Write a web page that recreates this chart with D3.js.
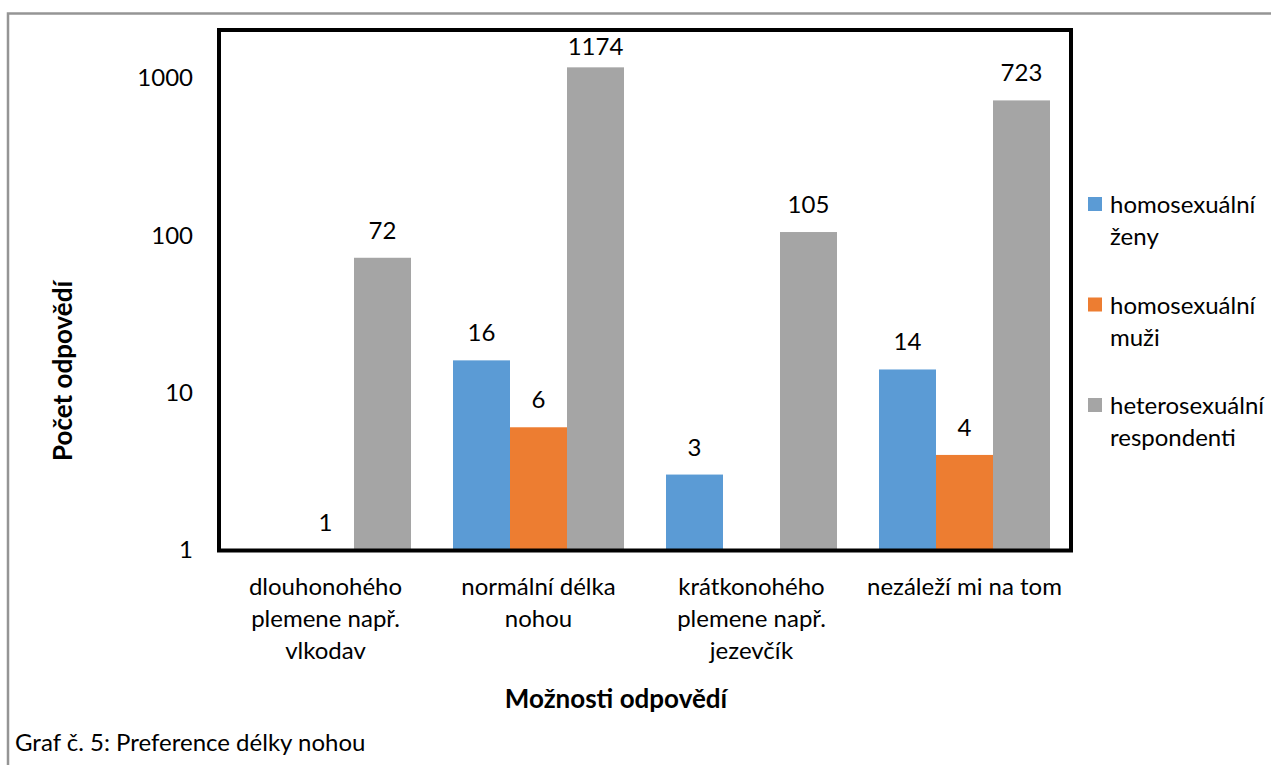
<!DOCTYPE html>
<meta charset="utf-8">
<script src="https://d3js.org/d3.v7.min.js"></script>

<style>
    body { margin: 0; background: #fff; }
    svg text { font-family: Lato, "Noto Sans", sans-serif; fill: #000; }
</style>

<div id="vis"></div>

<script>
    // data
    var categories = [
        ["dlouhonohého", "plemene např.", "vlkodav"],
        ["normální délka", "nohou"],
        ["krátkonohého", "plemene např.", "jezevčík"],
        ["nezáleží mi na tom"]
    ]
    var seriesNames = [
        ["homosexuální", "ženy"],
        ["homosexuální", "muži"],
        ["heterosexuální", "respondenti"]
    ]
    var lesbianValues = [null, 16, 3, 14]
    var gayValues = [1, 6, null, 4]
    var heteroValues = [72, 1174, 105, 723]
    var yTicks = [1, 10, 100, 1000]

    var colors = ["#5B9BD5", "#ED7D31", "#A5A5A5"]
    var fontSize = 24
    var titleSize = 26

    var W = 1271, H = 765
    var plot = {left: 219, right: 1071, top: 31, bottom: 549.5}

    var svg = d3.select("#vis").append("svg")
        .attr("width", W)
        .attr("height", H)

    // outer frame of the chart object
    svg.append("rect")
        .attr("x", 8).attr("y", 13.5)
        .attr("width", W + 20).attr("height", H + 20)
        .attr("fill", "none")
        .attr("stroke", "#959595")
        .attr("stroke-width", 2.5)

    var x0 = d3.scaleBand()
        .domain(d3.range(categories.length))
        .range([plot.left, plot.right])

    // Excel gap width ~75% => about 21px each side of a group
    var gap = x0.bandwidth() * 42 / 213 / 2
    var x1 = d3.scaleBand()
        .domain([0, 1, 2])
        .range([gap, x0.bandwidth() - gap])

    var y = d3.scaleLog().domain([1, 2000]).range([plot.bottom, plot.top])

    var series = [lesbianValues, gayValues, heteroValues]

    // bars
    series.forEach(function (vals, s) {
        var g = svg.append("g")
        var data = vals.map(function (v, i) { return {v: v, i: i} }).filter(function (d) { return d.v != null })

        g.selectAll("rect")
            .data(data)
            .enter()
            .append("rect")
            .attr("x", function (d) { return x0(d.i) + x1(s) })
            .attr("width", x1.bandwidth())
            .attr("y", function (d) { return y(d.v) })
            .attr("height", function (d) { return plot.bottom - y(d.v) })
            .attr("fill", colors[s])

        // value labels, kept inside the plot area
        g.selectAll("text")
            .data(data)
            .enter()
            .append("text")
            .attr("x", function (d) { return x0(d.i) + x1(s) + x1.bandwidth() / 2 })
            .attr("y", function (d) { return Math.max(y(d.v) - 19, plot.top + 24) })
            .attr("text-anchor", "middle")
            .style("font-size", fontSize + "px")
            .text(function (d) { return d.v })
    })

    // plot frame
    svg.append("rect")
        .attr("x", plot.left)
        .attr("y", plot.top - 1)
        .attr("width", plot.right - plot.left)
        .attr("height", plot.bottom - plot.top + 2)
        .attr("fill", "none")
        .attr("stroke", "#000")
        .attr("stroke-width", 4)

    // y axis
    var yAxis = svg.append("g")
        .attr("transform", "translate(" + plot.left + ",0)")
        .call(d3.axisLeft(y).tickValues(yTicks).tickFormat(d3.format("d")).tickSize(0).tickPadding(26))
    yAxis.select(".domain").remove()
    yAxis.selectAll("text")
        .attr("dy", "0.32em")
        .style("font-family", "Lato, sans-serif")
        .style("font-size", fontSize + "px")

    // x category labels
    categories.forEach(function (lines, i) {
        var t = svg.append("text")
            .attr("text-anchor", "middle")
            .style("font-size", fontSize + "px")
        lines.forEach(function (line, k) {
            t.append("tspan")
                .attr("x", x0(i) + x0.bandwidth() / 2)
                .attr("y", 595 + k * 32)
                .text(line)
        })
    })

    // axis titles
    svg.append("text")
        .attr("x", 616)
        .attr("y", 708)
        .attr("text-anchor", "middle")
        .style("font-size", titleSize + "px")
        .style("font-weight", "bold")
        .text("Možnosti odpovědí")

    svg.append("text")
        .attr("transform", "translate(72,371) rotate(-90)")
        .attr("text-anchor", "middle")
        .style("font-size", titleSize + "px")
        .style("font-weight", "bold")
        .text("Počet odpovědí")

    // legend
    var legend = svg.append("g")
    seriesNames.forEach(function (lines, s) {
        var top = 197 + s * 100.5
        legend.append("rect")
            .attr("x", 1088).attr("y", top)
            .attr("width", 14).attr("height", 14)
            .attr("fill", colors[s])
        var t = legend.append("text").style("font-size", fontSize + "px")
        lines.forEach(function (line, k) {
            t.append("tspan")
                .attr("x", 1110)
                .attr("y", top + 16 + k * 32)
                .text(line)
        })
    })

    // caption under the chart
    svg.append("text")
        .attr("x", 15)
        .attr("y", 751)
        .style("font-size", fontSize + "px")
        .text("Graf č. 5: Preference délky nohou")
</script>
